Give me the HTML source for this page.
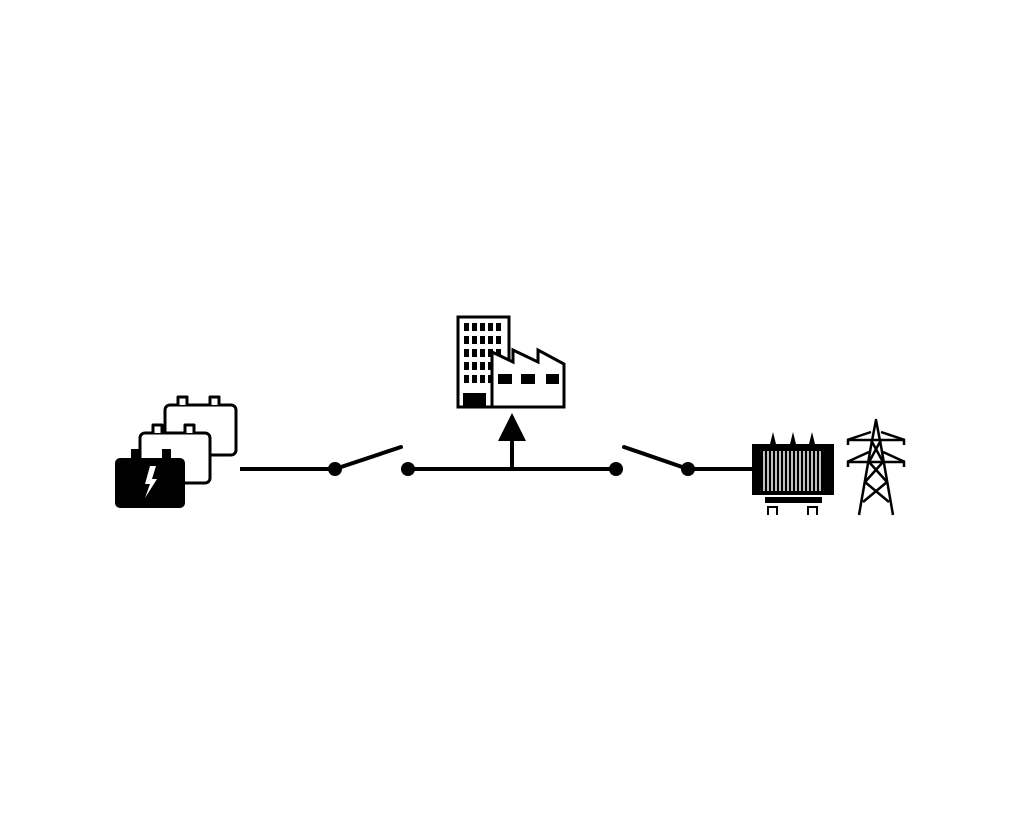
<!DOCTYPE html>
<html><head><style>html,body{margin:0;padding:0;background:#fff}</style></head><body>
<svg width="1024" height="830" viewBox="0 0 1024 830" xmlns="http://www.w3.org/2000/svg">
<rect width="1024" height="830" fill="#fff"/>
<g stroke="#000" stroke-width="4" fill="none" stroke-linecap="round">
<line x1="240" y1="469" x2="335" y2="469" stroke-linecap="butt"/>
<line x1="335" y1="469" x2="401" y2="447"/>
<line x1="408" y1="469" x2="616" y2="469"/>
<line x1="624" y1="447" x2="688" y2="469"/>
<line x1="688" y1="469" x2="754" y2="469" stroke-linecap="butt"/>
<line x1="512" y1="469" x2="512" y2="438" stroke-linecap="butt"/>
</g>
<g fill="#000">
<circle cx="335" cy="469" r="7"/><circle cx="408" cy="469" r="7"/>
<circle cx="616" cy="469" r="7"/><circle cx="688" cy="469" r="7"/>
<polygon points="512,413 498,441 526,441"/>
</g>
<!-- batteries -->
<g stroke="#000" stroke-width="3" fill="#fff" stroke-linejoin="round">
<rect x="165" y="405" width="71" height="50" rx="5"/>
<path d="M178 405 v-8 h9 v8 M210 405 v-8 h9 v8"/>
<rect x="140" y="433" width="70" height="50" rx="5"/>
<path d="M153 433 v-8 h9 v8 M185 433 v-8 h9 v8"/>
</g>
<g fill="#000">
<rect x="115" y="458" width="70" height="50" rx="5"/>
<rect x="131" y="449" width="9" height="10"/><rect x="162" y="449" width="9" height="10"/>
<polygon points="150,466 145,484 150,484 145,498 157,479 152,479 156,466" fill="#fff"/>
</g>
<!-- buildings -->
<rect x="458" y="317" width="51" height="90" stroke="#000" stroke-width="3" fill="#fff"/>
<g fill="#000">
<g id="r">
<rect x="464" y="323" width="5" height="8"/><rect x="472" y="323" width="5" height="8"/><rect x="480" y="323" width="5" height="8"/><rect x="488" y="323" width="5" height="8"/><rect x="496" y="323" width="5" height="8"/>
</g>
<use href="#r" y="13"/><use href="#r" y="26"/><use href="#r" y="39"/><use href="#r" y="52"/>
<rect x="463" y="393" width="23" height="14"/>
</g>
<path d="M492 407 V352 L513 362 V350 L538 362 V350 L564 364 V407 Z" stroke="#000" stroke-width="3" fill="#fff" stroke-linejoin="miter"/>
<g fill="#000">
<rect x="498" y="374" width="14" height="10"/><rect x="521" y="374" width="14" height="10"/><rect x="546" y="374" width="13" height="10"/>
</g>
<!-- transformer -->
<g fill="#000">
<rect x="752" y="444" width="82" height="51"/>
<polygon points="770,444 773,432 776,444"/><polygon points="790,444 793,432 796,444"/><polygon points="809,444 812,432 815,444"/>
<rect x="765" y="497" width="57" height="6"/>
</g>
<g stroke="#fff" stroke-width="1.5">
<line x1="764" y1="451" x2="764" y2="491"/><line x1="768" y1="451" x2="768" y2="491"/><line x1="772" y1="451" x2="772" y2="491"/><line x1="776" y1="451" x2="776" y2="491"/><line x1="780" y1="451" x2="780" y2="491"/><line x1="784" y1="451" x2="784" y2="491"/><line x1="788" y1="451" x2="788" y2="491"/><line x1="792" y1="451" x2="792" y2="491"/><line x1="796" y1="451" x2="796" y2="491"/><line x1="800" y1="451" x2="800" y2="491"/><line x1="804" y1="451" x2="804" y2="491"/><line x1="808" y1="451" x2="808" y2="491"/><line x1="812" y1="451" x2="812" y2="491"/><line x1="816" y1="451" x2="816" y2="491"/><line x1="820" y1="451" x2="820" y2="491"/>
</g>
<g stroke="#000" stroke-width="2" fill="none">
<path d="M768 515 v-8 h9 v8 M808 515 v-8 h9 v8"/>
</g>
<!-- tower -->
<g stroke="#000" stroke-width="2.5" fill="none" stroke-linejoin="round">
<path d="M859 515 L871 446 L876 420 L881 446 L893 515"/>
<line x1="847" y1="440" x2="905" y2="440"/>
<line x1="847" y1="462" x2="905" y2="462"/>
<path d="M847 440 L871 432 M905 440 L881 432 M847 462 L869 452 M905 462 L883 452"/>
<path d="M871 440 L883 462 L865 482 L889 502 M881 440 L869 462 L887 482 L863 502"/>
<path d="M848 440 v5 M904 440 v5 M848 462 v5 M904 462 v5"/>
</g>
</svg>
</body></html>
